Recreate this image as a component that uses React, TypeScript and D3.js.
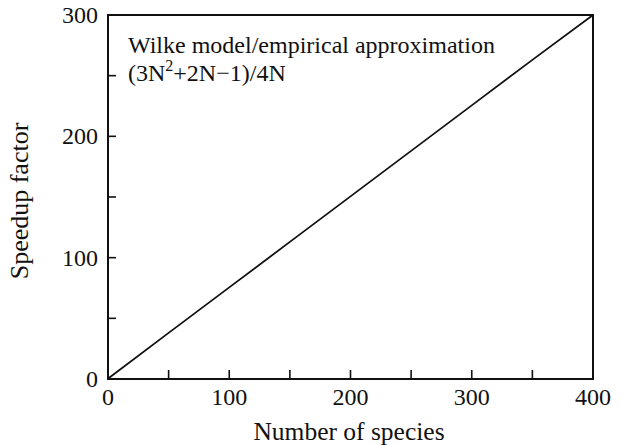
import React from "react";
import * as d3 from "d3";

const speciesN = [1, 50, 100, 150, 200, 250, 300, 350, 400];
const speedup = [1, 38, 75.5, 113, 150.5, 188, 225.5, 263, 300.5];
const xMajor = [0, 100, 200, 300, 400];
const xMinor = [50, 150, 250, 350];
const yMajor = [0, 100, 200, 300];
const yMinor = [50, 150, 250];

export default function App() {
  const W = 622, H = 445;
  const m = { l: 108, r: 593, t: 15, b: 379 };
  const x = d3.scaleLinear().domain([0, 400]).range([m.l, m.r]);
  const y = d3.scaleLinear().domain([0, 300]).range([m.b, m.t]);
  const pts = [0, ...speedup];
  const xs = [0, ...speciesN];
  const path = d3.line<number>().x((_, i) => x(xs[i])).y((d) => y(Math.min(300, d)))(pts);
  const font = "'Times New Roman', 'Liberation Serif', 'DejaVu Serif', serif";
  return (
    <svg width={W} height={H} style={{ position: "absolute", left: 0, top: 0, fontFamily: font }}>
      <rect width={W} height={H} fill="#fff" />
      <path d={path || ""} fill="none" stroke="#111" strokeWidth={1.8} />
      <rect x={m.l} y={m.t} width={m.r - m.l} height={m.b - m.t} fill="none" stroke="#111" strokeWidth={2} />
      {[...xMajor, ...xMinor].map((v) => (
        <line key={"xt" + v} x1={x(v)} x2={x(v)} y1={m.b} y2={m.b - 9} stroke="#111" strokeWidth={1.6} />
      ))}
      {[...yMajor, ...yMinor].map((v) => (
        <line key={"yt" + v} x1={m.l} x2={m.l + 8} y1={y(v)} y2={y(v)} stroke="#111" strokeWidth={1.6} />
      ))}
      {xMajor.map((v) => (
        <text key={"xl" + v} x={x(v)} y={405} textAnchor="middle" fontSize={24} fill="#111">{v}</text>
      ))}
      {yMajor.map((v) => (
        <text key={"yl" + v} x={98} y={y(v) + 8} textAnchor="end" fontSize={24} fill="#111">{v}</text>
      ))}
      <text x={349} y={440} textAnchor="middle" fontSize={25.5} fill="#111">Number of species</text>
      <text transform={`translate(28,201) rotate(-90)`} textAnchor="middle" fontSize={26} fill="#111">Speedup factor</text>
      <text x={128} y={53} fontSize={24} fill="#111">Wilke model/empirical approximation</text>
      <text x={128} y={81} fontSize={24} fill="#111">
        (3N<tspan dy={-10} fontSize={16}>2</tspan><tspan dy={10}>+2N−1)/4N</tspan>
      </text>
    </svg>
  );
}
